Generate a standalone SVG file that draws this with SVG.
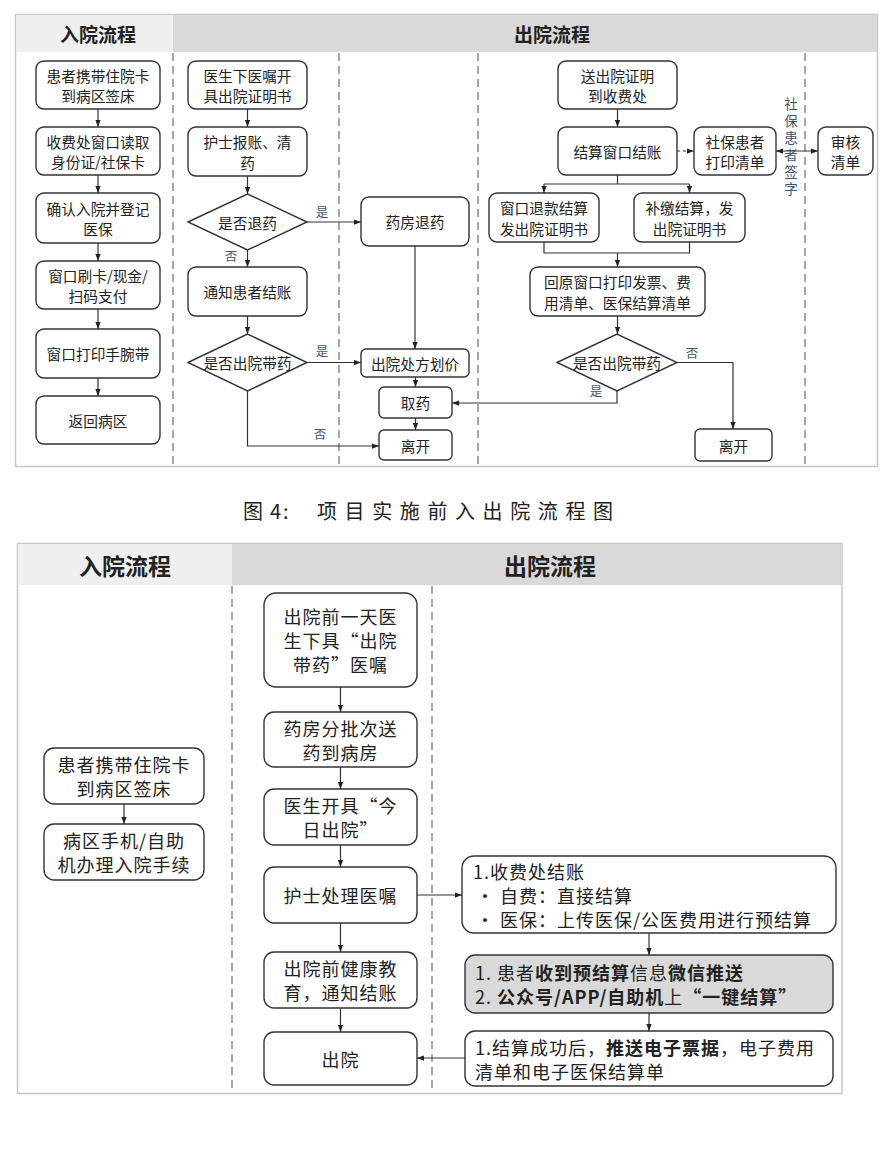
<svg xmlns="http://www.w3.org/2000/svg" width="894" height="1150" viewBox="0 0 894 1150">
<defs>
<marker id="ah" viewBox="0 0 8 6" refX="8" refY="3" markerWidth="7" markerHeight="5.5" markerUnits="userSpaceOnUse" orient="auto-start-reverse"><path d="M0,0 L8,3 L0,6 z" fill="#222"/></marker>
<style>
text{font-family:"Noto Sans CJK SC","Liberation Serif",sans-serif;fill:#222;}
.n rect,.n polygon{fill:#fff;stroke:#333;stroke-width:1.4;}
.t{font-size:14.7px;text-anchor:middle;dominant-baseline:central;}
.tb{font-size:18px;letter-spacing:1px;text-anchor:middle;dominant-baseline:central;}
.tl{font-size:18px;letter-spacing:1px;dominant-baseline:central;}
.b{font-weight:bold;}
.hd{font-weight:bold;text-anchor:middle;dominant-baseline:central;}
.lab{font-size:12.5px;fill:#44546a;text-anchor:middle;dominant-baseline:central;}
.vl{font-size:13.5px;fill:#44546a;writing-mode:tb;letter-spacing:3.6px;}
.frame{fill:#fff;stroke:#c8c8c8;stroke-width:1.5;}
.dash{stroke:#a6a6a6;stroke-width:2;stroke-dasharray:8,5;fill:none;}
.c path,.c line{stroke:#333;stroke-width:1.2;fill:none;}
.gray rect{fill:#d9d9d9;}
</style>
</defs>

<!-- ============ TOP DIAGRAM ============ -->
<g id="top-frame">
<rect class="frame" x="15.5" y="14.5" width="862" height="452"/>
<rect x="16" y="15" width="157" height="37" fill="#efefef"/>
<rect x="173" y="15" width="704" height="37" fill="#d9d9d9"/>
<text class="hd" x="98" y="33" font-size="19">入院流程</text>
<text class="hd" x="552" y="33" font-size="19">出院流程</text>
<line class="dash" x1="173" y1="53" x2="173" y2="466"/>
<line class="dash" x1="339" y1="53" x2="339" y2="466"/>
<line class="dash" x1="478" y1="53" x2="478" y2="466"/>
<line class="dash" x1="805" y1="53" x2="805" y2="466"/>
</g>

<g id="L1" class="n"><rect x="36" y="61" width="124" height="48" rx="8"/><text class="t"><tspan x="98" y="75">患者携带住院卡</tspan><tspan x="98" y="95">到病区签床</tspan></text></g>
<g id="L2" class="n"><rect x="36" y="127" width="124" height="48" rx="8"/><text class="t"><tspan x="98" y="141">收费处窗口读取</tspan><tspan x="98" y="161">身份证/社保卡</tspan></text></g>
<g id="L3" class="n"><rect x="36" y="193" width="124" height="50" rx="8"/><text class="t"><tspan x="98" y="208">确认入院并登记</tspan><tspan x="98" y="228">医保</tspan></text></g>
<g id="L4" class="n"><rect x="36" y="261" width="124" height="48" rx="8"/><text class="t"><tspan x="98" y="275">窗口刷卡/现金/</tspan><tspan x="98" y="295">扫码支付</tspan></text></g>
<g id="L5" class="n"><rect x="36" y="329" width="124" height="49" rx="8"/><text class="t" x="98" y="353.5">窗口打印手腕带</text></g>
<g id="L6" class="n"><rect x="36" y="396" width="124" height="48" rx="8"/><text class="t" x="98" y="420">返回病区</text></g>

<g id="M1" class="n"><rect x="188" y="61" width="119" height="48" rx="8"/><text class="t"><tspan x="247.5" y="75">医生下医嘱开</tspan><tspan x="247.5" y="95">具出院证明书</tspan></text></g>
<g id="M2" class="n"><rect x="188" y="127" width="119" height="49" rx="8"/><text class="t"><tspan x="247.5" y="141">护士报账、清</tspan><tspan x="247.5" y="162">药</tspan></text></g>
<g id="D1" class="n"><polygon points="188,222 247.5,194 307,222 247.5,250"/><text class="t" x="247.5" y="222">是否退药</text></g>
<g id="M3" class="n"><rect x="188" y="267" width="119" height="49" rx="8"/><text class="t" x="247.5" y="291.5">通知患者结账</text></g>
<g id="D2" class="n"><polygon points="188,362.5 247.5,334 307,362.5 247.5,391"/><text class="t" x="247.5" y="362.5">是否出院带药</text></g>

<g id="R1" class="n"><rect x="361" y="197" width="108" height="49" rx="8"/><text class="t" x="415" y="221.5">药房退药</text></g>
<g id="R2" class="n"><rect x="361" y="349" width="108" height="28" rx="5"/><text class="t" x="415" y="363">出院处方划价</text></g>
<g id="R3" class="n"><rect x="379" y="387" width="73" height="31" rx="5"/><text class="t" x="415.5" y="402.5">取药</text></g>
<g id="R4" class="n"><rect x="379" y="430" width="73" height="30" rx="5"/><text class="t" x="415.5" y="445">离开</text></g>

<g id="S1" class="n"><rect x="558" y="61" width="119" height="48" rx="8"/><text class="t"><tspan x="617.5" y="75">送出院证明</tspan><tspan x="617.5" y="95">到收费处</tspan></text></g>
<g id="S2" class="n"><rect x="558" y="127" width="119" height="48" rx="8"/><text class="t" x="617.5" y="151">结算窗口结账</text></g>
<g id="S3" class="n"><rect x="694" y="127" width="82" height="48" rx="8"/><text class="t"><tspan x="735" y="141">社保患者</tspan><tspan x="735" y="161">打印清单</tspan></text></g>
<g id="S4" class="n"><rect x="818" y="127" width="55" height="48" rx="8"/><text class="t"><tspan x="845.5" y="141">审核</tspan><tspan x="845.5" y="161">清单</tspan></text></g>
<g id="S5" class="n"><rect x="489" y="193" width="110" height="49" rx="8"/><text class="t"><tspan x="544" y="207">窗口退款结算</tspan><tspan x="544" y="228">发出院证明书</tspan></text></g>
<g id="S6" class="n"><rect x="634" y="193" width="111" height="49" rx="8"/><text class="t"><tspan x="689.5" y="207">补缴结算，发</tspan><tspan x="689.5" y="228">出院证明书</tspan></text></g>
<g id="S7" class="n"><rect x="530" y="267" width="175" height="49" rx="8"/><text class="t"><tspan x="617.5" y="281">回原窗口打印发票、费</tspan><tspan x="617.5" y="302">用清单、医保结算清单</tspan></text></g>
<g id="D3" class="n"><polygon points="557,362.5 617,334 677,362.5 617,391"/><text class="t" x="617" y="362.5">是否出院带药</text></g>
<g id="S8" class="n"><rect x="695" y="429" width="77" height="32" rx="5"/><text class="t" x="733.5" y="445">离开</text></g>

<g id="top-connectors" class="c">
<line x1="98" y1="109" x2="98" y2="127" marker-end="url(#ah)"/>
<line x1="98" y1="175" x2="98" y2="193" marker-end="url(#ah)"/>
<line x1="98" y1="243" x2="98" y2="261" marker-end="url(#ah)"/>
<line x1="98" y1="309" x2="98" y2="329" marker-end="url(#ah)"/>
<line x1="98" y1="378" x2="98" y2="396" marker-end="url(#ah)"/>
<line x1="247.5" y1="109" x2="247.5" y2="127" marker-end="url(#ah)"/>
<line x1="247.5" y1="176" x2="247.5" y2="194" marker-end="url(#ah)"/>
<line x1="247.5" y1="250" x2="247.5" y2="267" marker-end="url(#ah)"/>
<line x1="247.5" y1="316" x2="247.5" y2="334" marker-end="url(#ah)"/>
<line x1="307" y1="222" x2="361" y2="222" marker-end="url(#ah)"/>
<line x1="307" y1="362.5" x2="361" y2="362.5" marker-end="url(#ah)"/>
<line x1="415" y1="246" x2="415" y2="349" marker-end="url(#ah)"/>
<line x1="415.5" y1="377" x2="415.5" y2="387" marker-end="url(#ah)"/>
<line x1="415.5" y1="418" x2="415.5" y2="430" marker-end="url(#ah)"/>
<path d="M247.5,391 V446 H379" marker-end="url(#ah)"/>
<line x1="617.5" y1="109" x2="617.5" y2="127" marker-end="url(#ah)"/>
<line x1="677" y1="151" x2="694" y2="151" stroke-dasharray="3,3" marker-end="url(#ah)"/>
<line x1="776" y1="151" x2="818" y2="151" marker-start="url(#ah)" marker-end="url(#ah)"/>
<path d="M617.5,175 V184 M544,184 H689.5"/>
<line x1="544" y1="184" x2="544" y2="193" marker-end="url(#ah)"/>
<line x1="689.5" y1="184" x2="689.5" y2="193" marker-end="url(#ah)"/>
<path d="M544,242 V253 H689.5 V242"/>
<line x1="617.5" y1="253" x2="617.5" y2="267" marker-end="url(#ah)"/>
<line x1="617.5" y1="316" x2="617.5" y2="334" marker-end="url(#ah)"/>
<path d="M677,362.5 H733 V429" marker-end="url(#ah)"/>
<path d="M617,391 V403 H452" marker-end="url(#ah)"/>
<text class="lab" x="322" y="211">是</text>
<text class="lab" x="231" y="255">否</text>
<text class="lab" x="322" y="350">是</text>
<text class="lab" x="320" y="433">否</text>
<text class="lab" x="692" y="352">否</text>
<text class="lab" x="596" y="390">是</text>
<text class="vl" x="791" y="97">社保患者签字</text>
</g>

<!-- caption -->
<g id="caption" font-size="20">
<text x="243" y="510" fill="#333" dominant-baseline="central">图</text>
<text x="270" y="510" fill="#333" dominant-baseline="central" letter-spacing="2">4:</text>
<text x="317" y="510" fill="#333" dominant-baseline="central" letter-spacing="7.6">项目实施前入出院流程图</text>
</g>

<!-- ============ BOTTOM DIAGRAM ============ -->
<g id="bottom-frame">
<rect class="frame" x="17.5" y="543.5" width="824.5" height="550"/>
<rect x="18" y="544" width="214" height="41" fill="#efefef"/>
<rect x="232" y="544" width="609" height="41" fill="#d9d9d9"/>
<text class="hd" x="125" y="565" font-size="23">入院流程</text>
<text class="hd" x="550" y="565" font-size="23">出院流程</text>
<line class="dash" x1="232" y1="586" x2="232" y2="1093"/>
<line class="dash" x1="432" y1="586" x2="432" y2="1093"/>
</g>

<g id="B1" class="n"><rect x="44" y="748" width="160" height="56" rx="10"/><text class="tb"><tspan x="124" y="764">患者携带住院卡</tspan><tspan x="124" y="788">到病区签床</tspan></text></g>
<g id="B2" class="n"><rect x="44" y="824" width="160" height="56" rx="10"/><text class="tb"><tspan x="124" y="840">病区手机/自助</tspan><tspan x="124" y="864">机办理入院手续</tspan></text></g>

<g id="C1" class="n"><rect x="264" y="593" width="153" height="94" rx="12"/><text class="tb"><tspan x="340.5" y="616">出院前一天医</tspan><tspan x="340.5" y="640">生下具“出院</tspan><tspan x="340.5" y="664">带药”医嘱</tspan></text></g>
<g id="C2" class="n"><rect x="264" y="712" width="153" height="55" rx="10"/><text class="tb"><tspan x="340.5" y="727.5">药房分批次送</tspan><tspan x="340.5" y="751.5">药到病房</tspan></text></g>
<g id="C3" class="n"><rect x="264" y="789" width="153" height="56" rx="10"/><text class="tb"><tspan x="340.5" y="805">医生开具“今</tspan><tspan x="340.5" y="829">日出院”</tspan></text></g>
<g id="C4" class="n"><rect x="264" y="867" width="153" height="56" rx="10"/><text class="tb" x="340.5" y="895">护士处理医嘱</text></g>
<g id="C5" class="n"><rect x="264" y="952" width="153" height="56" rx="10"/><text class="tb"><tspan x="340.5" y="968">出院前健康教</tspan><tspan x="340.5" y="992">育，通知结账</tspan></text></g>
<g id="C6" class="n"><rect x="264" y="1032" width="153" height="53" rx="10"/><text class="tb" x="340.5" y="1058.5">出院</text></g>

<g id="E1" class="n"><rect x="462" y="856" width="374" height="77" rx="12"/>
<text class="tl"><tspan x="473" y="871">1.收费处结账</tspan><tspan x="476" y="895">•</tspan><tspan x="500" y="895">自费：直接结算</tspan><tspan x="476" y="919">•</tspan><tspan x="500" y="919">医保：上传医保/公医费用进行预结算</tspan></text>
</g>
<g id="E2" class="n gray"><rect x="465" y="955" width="368" height="58" rx="10"/>
<text class="tl"><tspan x="475" y="972">1. 患者</tspan><tspan class="b">收到预结算</tspan><tspan>信息</tspan><tspan class="b">微信推送</tspan><tspan x="475" y="996">2. </tspan><tspan class="b">公众号/APP/自助机</tspan><tspan>上</tspan><tspan class="b">“一键结算”</tspan></text>
</g>
<g id="E3" class="n"><rect x="465" y="1031" width="368" height="55" rx="10"/>
<text class="tl"><tspan x="475" y="1046.5">1.结算成功后，</tspan><tspan class="b">推送电子票据</tspan><tspan>，电子费用</tspan><tspan x="475" y="1070.5">清单和电子医保结算单</tspan></text>
</g>

<g id="bottom-connectors" class="c">
<line x1="124" y1="804" x2="124" y2="824" marker-end="url(#ah)"/>
<line x1="340.5" y1="687" x2="340.5" y2="712" marker-end="url(#ah)"/>
<line x1="340.5" y1="767" x2="340.5" y2="789" marker-end="url(#ah)"/>
<line x1="340.5" y1="845" x2="340.5" y2="867" marker-end="url(#ah)"/>
<line x1="340.5" y1="923" x2="340.5" y2="952" marker-end="url(#ah)"/>
<line x1="340.5" y1="1008" x2="340.5" y2="1032" marker-end="url(#ah)"/>
<line x1="417" y1="895" x2="462" y2="895" marker-end="url(#ah)"/>
<line x1="649" y1="933" x2="649" y2="955" marker-end="url(#ah)"/>
<line x1="649" y1="1013" x2="649" y2="1031" marker-end="url(#ah)"/>
<line x1="465" y1="1058" x2="417" y2="1058" marker-end="url(#ah)"/>
</g>
</svg>
